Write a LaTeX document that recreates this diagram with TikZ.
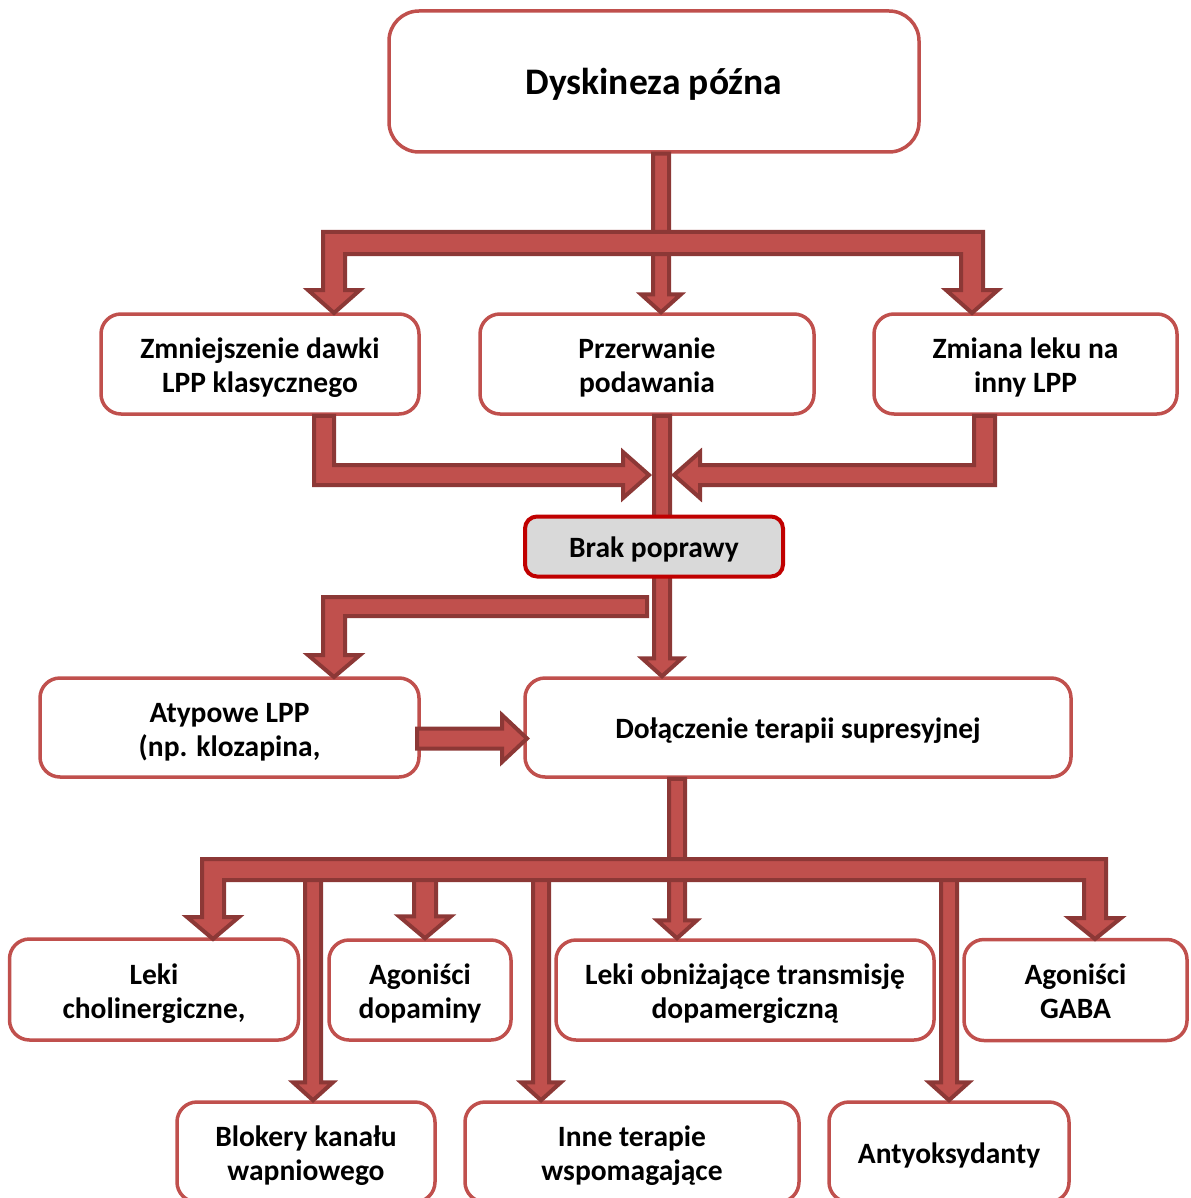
\documentclass[tikz,border=0pt]{standalone}
\usepackage{fontspec}
\setmainfont{Carlito}
\usetikzlibrary{calc}
\definecolor{boxred}{HTML}{C0504D}
\definecolor{arrfill}{HTML}{C0504D}
\definecolor{arrline}{HTML}{8C3836}
\definecolor{brakred}{HTML}{C00000}
\definecolor{brakfill}{HTML}{D9D9D9}
\tikzset{
  box/.style={draw=boxred, line width=3.5pt, fill=white, rounded corners=20pt,
    align=center, font=\fontsize{29.5}{34}\selectfont\bfseries, inner sep=0pt,
    text height=30pt, text depth=8pt},
  twoline/.style={box, text height=65pt, text depth=8pt},
  bigbox/.style={box, rounded corners=30pt, font=\fontsize{37.5}{42}\selectfont\bfseries,
    text height=35pt, text depth=9pt},
  arr/.style={draw=arrline, fill=arrfill, line width=4pt, line join=miter},
}
% vertical block arrow: start point (y only), tip point, shaft half width, head half width, head length
\newcommand\varrow[5]{%
  \path[arr] let \p1=(#1), \p2=(#2) in
    (\x2-#3,\y1) -- (\x2+#3,\y1) -- (\x2+#3,\y2+#5) -- (\x2+#4,\y2+#5) -- (\x2,\y2)
    -- (\x2-#4,\y2+#5) -- (\x2-#3,\y2+#5) -- cycle;}
\begin{document}
\begin{tikzpicture}[x=1pt,y=-1pt]
\useasboundingbox (0,0) rectangle (1190,1198);
\clip (0,0) rectangle (1190,1198);
% boxes
\node[bigbox, minimum width=530pt, minimum height=141pt] (top) at (654,81.5) {Dyskineza późna};
\node[twoline, minimum width=318pt, minimum height=100pt] (zmn) at (260,364) {Zmniejszenie dawki\\LPP klasycznego};
\node[twoline, minimum width=334pt, minimum height=100pt] (prz) at (647,364) {Przerwanie\\podawania};
\node[twoline, minimum width=303pt, minimum height=100pt] (zmi) at (1025.5,364) {Zmiana leku na\\inny LPP};
\node[twoline, minimum width=379pt, minimum height=99pt] (aty) at (229.5,727.5) {Atypowe LPP\\(np. klozapina,};
\node[box, minimum width=546pt, minimum height=99pt] (dol) at (798,727.5) {Dołączenie terapii supresyjnej};
\node[twoline, minimum width=289pt, minimum height=101pt] (lch) at (154,989.5) {Leki\\cholinergiczne,};
\node[twoline, minimum width=182pt, minimum height=100pt] (ado) at (420,990) {Agoniści\\dopaminy};
\node[twoline, minimum width=378pt, minimum height=100pt] (lob) at (745,990) {Leki obniżające transmisję\\dopamergiczną};
\node[twoline, minimum width=223pt, minimum height=101pt] (gab) at (1075.5,990) {Agoniści\\GABA};
\node[twoline, minimum width=258pt, minimum height=100pt] (blo) at (306,1152) {Blokery kanału\\wapniowego};
\node[twoline, minimum width=334pt, minimum height=100pt] (inn) at (632,1152) {Inne terapie\\wspomagające};
\node[box, minimum width=240pt, minimum height=100pt] (ant) at (949,1152) {Antyoksydanty};
% top arrows
\varrow{top.south}{$(prz.north)+(14,0)$}{8pt}{20pt}{18pt}
\path[arr] (323,232) -- (983,232) -- (983,290) -- (998,290) -- (972,313) -- (946,290) -- (961,290)
  -- (961,254) -- (345,254) -- (345,290) -- (360,290) -- (334,313) -- (308,290) -- (323,290) -- cycle;
% middle arrows
\varrow{prz.south}{$(dol.north)+(-136,0)$}{8pt}{20pt}{18pt}
\path[arr] (zmn.south -| 314,0) -- (zmn.south -| 334,0) -- (334,465) -- (623,465) -- (623,452)
  -- (649,475) -- (623,498) -- (623,485) -- (314,485) -- cycle;
\path[arr] (zmi.south -| 974,0) -- (zmi.south -| 995,0) -- (995,485) -- (700,485) -- (700,498)
  -- (674,475) -- (700,452) -- (700,465) -- (974,465) -- cycle;
\node[box, draw=brakred, fill=brakfill, rounded corners=12pt, line width=4pt,
  minimum width=258pt, minimum height=60pt] (brak) at (654,546.5) {Brak poprawy};
\path[arr] (647,597) -- (647,616) -- (345,616) -- (345,655) -- (360,655) -- (334,677)
  -- (308,655) -- (323,655) -- (323,597) -- cycle;
\path[arr] (417,728.5) -- (502,728.5) -- (502,715) -- (527,738.5) -- (502,762)
  -- (502,748.5) -- (417,748.5) -- cycle;
% bottom arrows
\varrow{dol.south}{$(lob.north)+(-68,0)$}{8pt}{20pt}{18pt}
\varrow{$(0,870)$}{$(blo.north)+(7,0)$}{8pt}{20pt}{18pt}
\varrow{$(0,870)$}{$(inn.north)+(-91,0)$}{8pt}{20pt}{18pt}
\varrow{$(0,870)$}{$(ant.north)+(0,0)$}{8pt}{20pt}{18pt}
\varrow{$(0,870)$}{$(ado.north)+(5,0)$}{11pt}{26pt}{22pt}
\path[arr] (202,859) -- (1106,859) -- (1106,918) -- (1121,918) -- (1095,939) -- (1069,918) -- (1084,918)
  -- (1084,880) -- (224,880) -- (224,917) -- (239,917) -- (213,939) -- (187,917) -- (202,917) -- cycle;
\end{tikzpicture}
\end{document}
